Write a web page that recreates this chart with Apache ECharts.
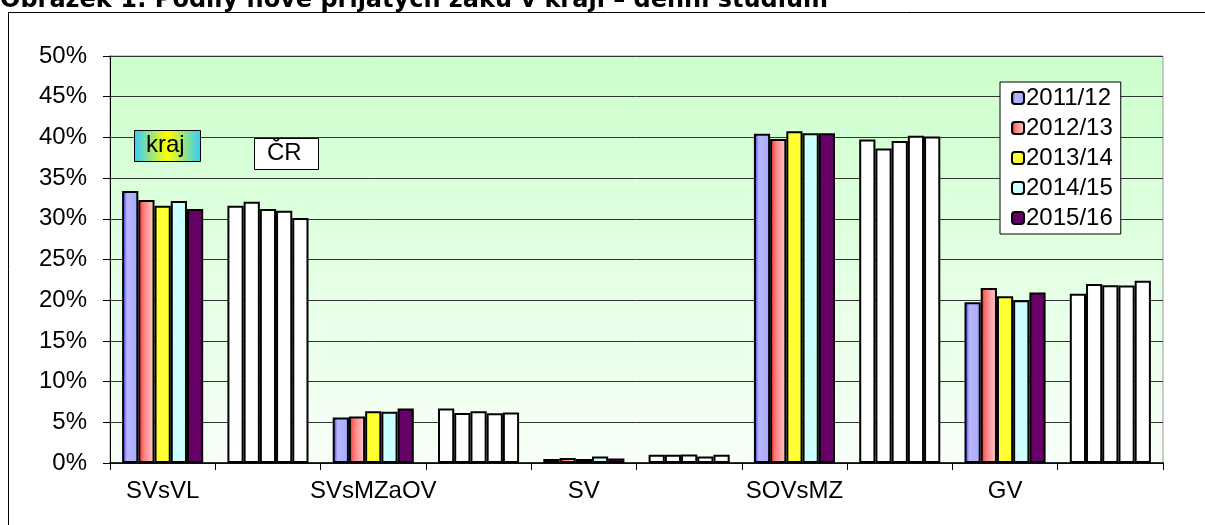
<!DOCTYPE html>
<html>
<head>
<meta charset="utf-8">
<script src="https://cdn.jsdelivr.net/npm/echarts@6/dist/echarts.min.js"></script>
<style>
html,body{margin:0;padding:0;background:#fff;}
#chart{width:1205px;height:525px;}
</style>
</head>
<body>
<div id="chart"></div>
<script>
// Categories: kraj slot (labelled) followed by ČR slot (unlabelled)
const categories = ['SVsVL', '', 'SVsMZaOV', '', 'SV', '', 'SOVsMZ', '', 'GV', ''];
const years = ['2011/12', '2012/13', '2013/14', '2014/15', '2015/16'];
const yTicks = [0, 5, 10, 15, 20, 25, 30, 35, 40, 45, 50];

// values in %, [kraj, ČR] per group
const v2011 = [33.4, 31.6, 5.6, 6.7, 0.5, 1.0, 40.45, 39.75, 19.75, 20.8];
const v2012 = [32.3, 32.1, 5.7, 6.15, 0.6, 1.0, 39.8, 38.65, 21.5, 22.0];
const v2013 = [31.6, 31.2, 6.35, 6.35, 0.5, 1.05, 40.75, 39.55, 20.5, 21.85];
const v2014 = [32.2, 31.0, 6.3, 6.1, 0.8, 0.8, 40.5, 40.2, 20.0, 21.8];
const v2015 = [31.2, 30.1, 6.7, 6.2, 0.55, 1.0, 40.5, 40.1, 20.95, 22.4];

const seriesValues = [v2011, v2012, v2013, v2014, v2015];

function hGrad(stops) {
  return { type: 'linear', x: 0, y: 0, x2: 1, y2: 0, colorStops: stops };
}
const seriesColors = [
  hGrad([{offset: 0, color: '#2222ee'}, {offset: 0.3, color: '#b8b8ff'}, {offset: 1, color: '#a8a8ff'}]),
  hGrad([{offset: 0, color: '#ff2222'}, {offset: 0.35, color: '#ff8080'}, {offset: 1, color: '#ffd0d0'}]),
  '#ffff33',
  '#ccffff',
  '#660066'
];

const FONT = '"Liberation Sans", Arial, sans-serif';
const FS = 24;

const series = years.map((y, i) => ({
  name: y,
  type: 'bar',
  barGap: '0%',
  barCategoryGap: '23%',
  itemStyle: { color: seriesColors[i], borderColor: '#000', borderWidth: 2 },
  emphasis: { disabled: true },
  data: seriesValues[i].map((v, k) => (k % 2 === 1)
    ? { value: v, itemStyle: { color: '#ffffff' } }
    : v)
}));

const chart = echarts.init(document.getElementById('chart'), null, { renderer: 'canvas' });
chart.setOption({
  animation: false,
  backgroundColor: '#ffffff',
  grid: {
    left: 110, right: 42, top: 56, bottom: 62,
    show: true,
    backgroundColor: { type: 'linear', x: 0, y: 0, x2: 0, y2: 1,
      colorStops: [{offset: 0, color: '#ccffcc'}, {offset: 1, color: '#f8fff8'}] },
    borderColor: '#9a9a9a', borderWidth: 1
  },
  legend: {
    data: years,
    orient: 'vertical',
    left: 1000, top: 82,
    backgroundColor: '#ffffff',
    borderColor: '#000', borderWidth: 1,
    padding: [4, 8, 4, 11],
    itemWidth: 12, itemHeight: 12, itemGap: 6,
    textStyle: { fontFamily: FONT, fontSize: FS, color: '#000', padding: [0, 0, 0, -3] },
    selectedMode: false
  },
  xAxis: {
    type: 'category',
    data: categories,
    axisLine: { lineStyle: { color: '#000', width: 1.5 } },
    axisTick: { show: true, interval: 0, length: 7, lineStyle: { color: '#000' } },
    axisLabel: { interval: 0, fontFamily: FONT, fontSize: FS, color: '#000', margin: 16 },
    splitLine: { show: false }
  },
  yAxis: {
    type: 'value',
    min: yTicks[0], max: yTicks[yTicks.length - 1], interval: 5,
    axisLine: { show: true, lineStyle: { color: '#000', width: 1 } },
    axisTick: { show: true, length: 7, lineStyle: { color: '#000' } },
    axisLabel: { formatter: '{value}%', fontFamily: FONT, fontSize: FS, color: '#000', margin: 23 },
    splitLine: { show: true, lineStyle: { color: '#333', width: 1 } }
  },
  series: series,
  graphic: [
    { type: 'text', left: 0, top: -11, z: 100,
      style: { text: 'Obrázek 1: Podíly nově přijatých žáků v kraji – denní studium',
        font: 'bold 24px "DejaVu Sans", Verdana, sans-serif', fill: '#000' } },
    { type: 'rect', z: 90, shape: { x: 8.5, y: 12.5, width: 1220, height: 540 },
      style: { fill: 'none', stroke: '#000', lineWidth: 1 } },
    { type: 'rect', z: 100, shape: { x: 134.5, y: 130.5, width: 66, height: 31 },
      style: { fill: hGrad([{offset: 0, color: '#33ccff'}, {offset: 0.5, color: '#ffff00'}, {offset: 1, color: '#33ccff'}]),
        stroke: '#000', lineWidth: 1 } },
    { type: 'text', z: 101, left: 146, top: 133,
      style: { text: 'kraj', font: '24px "Liberation Sans", Arial, sans-serif', fill: '#000' } },
    { type: 'rect', z: 100, shape: { x: 254.5, y: 138.5, width: 64, height: 31 },
      style: { fill: '#ffffff', stroke: '#000', lineWidth: 1 } },
    { type: 'text', z: 101, left: 267, top: 141,
      style: { text: 'ČR', font: '24px "Liberation Sans", Arial, sans-serif', fill: '#000' } }
  ]
});
</script>
</body>
</html>
